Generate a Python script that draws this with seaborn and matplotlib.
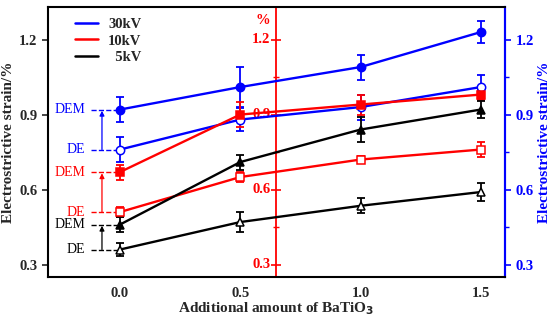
import matplotlib
matplotlib.use("Agg")
import matplotlib.pyplot as plt
import seaborn as sns
import pandas as pd
import numpy as np
from matplotlib.ticker import MultipleLocator
from matplotlib.lines import Line2D

sns.set_style("white")
plt.rcParams['font.family'] = ['Liberation Serif', 'DejaVu Serif']
plt.rcParams['font.weight'] = 'bold'

x_vals = [0.0, 0.5, 1.0, 1.5]

dem_30 = [0.92, 1.01, 1.09, 1.23]
dem_30_err = [0.05, 0.08, 0.05, 0.045]
de_30 = [0.76, 0.88, 0.93, 1.01]
de_30_err = [0.05, 0.045, 0.05, 0.05]

dem_10 = [0.67, 0.90, 0.94, 0.98]
dem_10_err = [0.03, 0.05, 0.04, 0.02]
de_10 = [0.51, 0.65, 0.72, 0.76]
de_10_err = [0.02, 0.02, 0.015, 0.03]

dem_5 = [0.46, 0.71, 0.84, 0.92]
dem_5_err = [0.03, 0.03, 0.05, 0.035]
de_5 = [0.36, 0.47, 0.535, 0.59]
de_5_err = [0.025, 0.04, 0.03, 0.035]

legend_labels = ["30kV", "10kV", "  5kV"]
colors = ["#0000ff", "#ff0000", "#000000"]

series = [
    (dem_30, dem_30_err, colors[0], 'o', True),
    (de_30, de_30_err, colors[0], 'o', False),
    (dem_10, dem_10_err, colors[1], 's', True),
    (de_10, de_10_err, colors[1], 's', False),
    (dem_5, dem_5_err, colors[2], '^', True),
    (de_5, de_5_err, colors[2], '^', False),
]

TS = 10.5

fig = plt.figure(figsize=(5.5, 3.21), dpi=100)
ax = fig.add_axes([0.087, 0.137, 0.831, 0.841])

for vals, errs, c, m, filled in series:
    df = pd.DataFrame({"x": x_vals, "y": vals})
    ax.errorbar(x_vals, vals, yerr=errs, fmt='none', ecolor=c, elinewidth=1.3,
                capsize=3, capthick=1.3, zorder=3)
    sns.lineplot(data=df, x="x", y="y", ax=ax, color=c, linewidth=1.7,
                 marker=m, markersize=6 if m != 's' else 5.5,
                 markerfacecolor=c if filled else "white",
                 markeredgecolor=c, markeredgewidth=1.1, zorder=4)

ax.set_xlim(-0.3, 1.6)
ax.set_ylim(0.25, 1.33)
ax.xaxis.set_major_locator(MultipleLocator(0.5))
ax.xaxis.set_minor_locator(MultipleLocator(0.25))
ax.set_yticks([0.3, 0.6, 0.9, 1.2])
ax.tick_params(axis='both', which='major', direction='out', length=4, width=1.2,
               labelsize=TS)
ax.tick_params(axis='x', which='minor', direction='out', length=3, width=1.0)
ax.set_xticklabels([f"{t:.1f}" for t in ax.get_xticks()])
ax.set_yticklabels([f"{t:.1f}" for t in ax.get_yticks()])
for lab in ax.get_xticklabels() + ax.get_yticklabels():
    lab.set_fontweight('bold')
ax.set_xlabel("Additional amount of BaTiO$_\\mathbf{3}$", fontsize=11, fontweight='bold',
              labelpad=0)
ax.set_ylabel("Electrostrictive strain/%", fontsize=11, fontweight='bold', labelpad=3)
for s in ['left', 'bottom', 'top']:
    ax.spines[s].set_linewidth(1.5)
    ax.spines[s].set_color('black')
ax.spines['right'].set_color('#0000ff')
ax.spines['right'].set_linewidth(1.5)

# right blue axis
axr = ax.twinx()
axr.set_ylim(ax.get_ylim())
axr.set_yticks([0.3, 0.6, 0.9, 1.2])
axr.set_yticklabels(["0.3", "0.6", "0.9", "1.2"])
axr.yaxis.set_minor_locator(MultipleLocator(0.15))
axr.tick_params(axis='y', which='major', colors='#0000ff', direction='out',
                length=4, width=1.2, labelsize=TS)
axr.tick_params(axis='y', which='minor', colors='#0000ff', direction='out',
                length=3, width=1.0)
for lab in axr.get_yticklabels():
    lab.set_fontweight('bold')
axr.set_ylabel("Electrostrictive strain/%", fontsize=11, fontweight='bold',
               color='#0000ff', labelpad=3)
axr.spines['right'].set_color('#0000ff')
axr.spines['right'].set_linewidth(1.5)
for s in ['left', 'top', 'bottom']:
    axr.spines[s].set_visible(False)

# red inner axis
axm = ax.twinx()
axm.set_ylim(ax.get_ylim())
axm.spines['right'].set_position(('data', 0.65))
axm.spines['right'].set_color('#ff0000')
axm.spines['right'].set_linewidth(1.3)
for s in ['left', 'top', 'bottom']:
    axm.spines[s].set_visible(False)
axm.set_yticks([0.3, 0.6, 0.9, 1.2])
axm.yaxis.set_minor_locator(MultipleLocator(0.15))
axm.tick_params(axis='y', which='major', colors='#ff0000', direction='inout',
                length=7, width=1.2, labelright=False, labelleft=False)
axm.tick_params(axis='y', which='minor', colors='#ff0000', direction='inout',
                length=5, width=1.0)
for t in [0.3, 0.6, 0.9, 1.2]:
    ax.text(0.625, t, f"{t:.1f}", color='#ff0000', fontsize=TS, fontweight='bold',
            ha='right', va='center', zorder=2)
ax.text(0.625, 1.275, "%", color='#ff0000', fontsize=TS, fontweight='bold',
        ha='right', va='center')
ax.set_zorder(axm.get_zorder() + 1)
ax.patch.set_visible(False)

# DE / DEM annotations
ann = [(dem_30[0], de_30[0], colors[0]),
       (dem_10[0], de_10[0], colors[1]),
       (dem_5[0], de_5[0], colors[2])]
for dem, de, c in ann:
    ax.plot([-0.12, -0.01], [dem, dem], ls='--', color=c, lw=1.0, zorder=2)
    ax.plot([-0.12, -0.01], [de, de], ls='--', color=c, lw=1.0, zorder=2)
    ax.annotate("", xy=(-0.075, dem - 0.005), xytext=(-0.075, de),
                arrowprops=dict(arrowstyle='-|>', color=c, lw=0.9,
                                mutation_scale=7, shrinkA=0, shrinkB=0))
    ax.text(-0.145, dem, "DEM", color=c, fontsize=10, fontweight='normal',
            ha='right', va='center')
    ax.text(-0.145, de, "DE", color=c, fontsize=10, fontweight='normal',
            ha='right', va='center')

handles = [Line2D([0], [0], color=c, lw=1.8) for c in colors]
leg = ax.legend(handles, legend_labels, loc='upper left',
                bbox_to_anchor=(0.03, 1.01), frameon=False,
                prop={'weight': 'bold', 'size': 10.5}, handlelength=1.6,
                labelspacing=0.25, handletextpad=0.7)

fig.savefig("out.png", dpi=100)
